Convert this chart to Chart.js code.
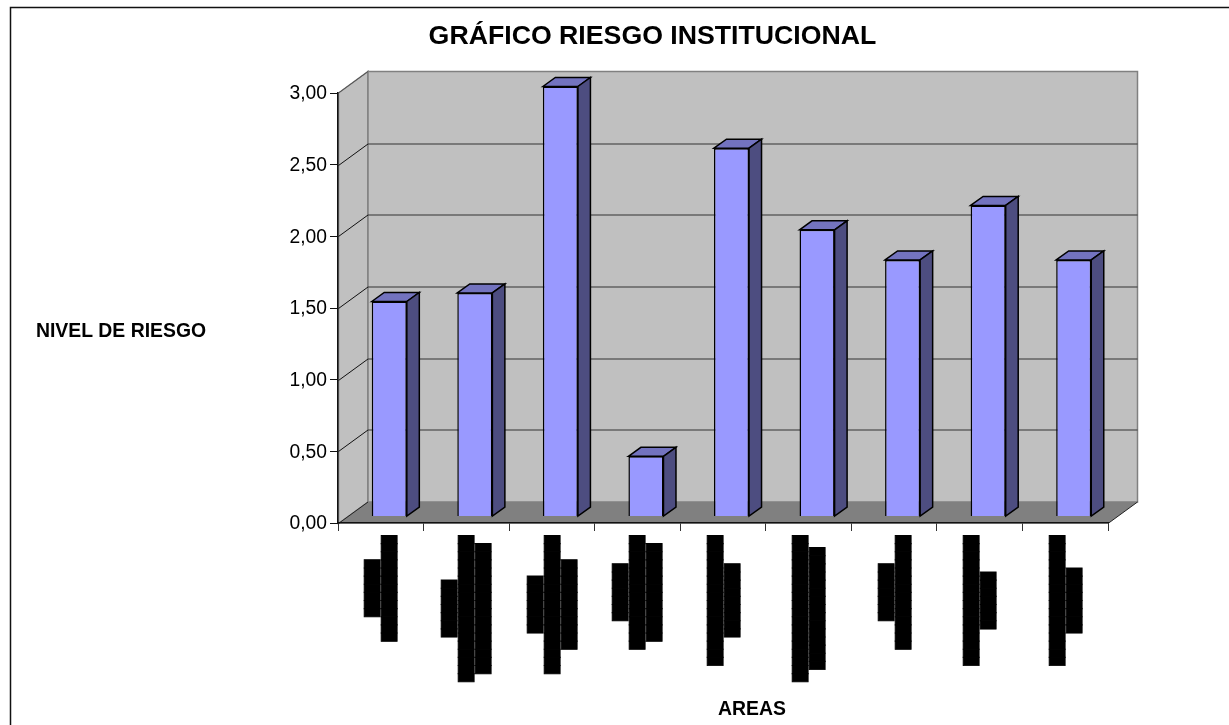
<!DOCTYPE html>
<html>
<head>
<meta charset="utf-8">
<script src="https://cdn.jsdelivr.net/npm/chart.js@4/dist/chart.umd.js"></script>
<style>
  html, body { margin: 0; padding: 0; background: #fff; overflow: hidden; }
  #wrap { width: 1229px; height: 725px; }
</style>
</head>
<body>
<div id="wrap"><canvas id="chart" width="1229" height="725"></canvas></div>
<script>
// area names are unreadable in the source, they show only as solid black text lines
const areaLabels = [
  ['███████', '█████████████'],
  ['███████', '██████████████████', '████████████████'],
  ['███████', '█████████████████', '███████████'],
  ['███████', '██████████████', '████████████'],
  ['████████████████', '█████████'],
  ['██████████████████', '███████████████'],
  ['███████', '██████████████'],
  ['████████████████', '███████'],
  ['████████████████', '████████']
];
const riesgo = [1.5, 1.56, 3.0, 0.42, 2.57, 2.0, 1.79, 2.17, 1.79];
const yTicks = [0, 0.5, 1, 1.5, 2, 2.5, 3];

const titulo = 'GRÁFICO RIESGO INSTITUCIONAL';
const tituloY = 'NIVEL DE RIESGO';
const tituloX = 'AREAS';

// 3D box depth
const wallDx = 29.5, wallDy = -21.5;
const barShiftX = 8.5, barShiftY = -6.5;
const barDx = 12.5, barDy = -9;

function poly(ctx, pts, fill, stroke, lw) {
  ctx.beginPath();
  pts.forEach((p, i) => i ? ctx.lineTo(p[0], p[1]) : ctx.moveTo(p[0], p[1]));
  ctx.closePath();
  if (fill) { ctx.fillStyle = fill; ctx.fill(); }
  if (stroke) { ctx.strokeStyle = stroke; ctx.lineWidth = lw; ctx.stroke(); }
}

const box3d = {
  id: 'box3d',
  beforeDraw(chart) {
    const ctx = chart.ctx, a = chart.chartArea, y = chart.scales.y;
    const l = a.left + 0.5, r = a.right, b = a.bottom + 0.5, t = y.getPixelForValue(3);
    const top = t + wallDy, floor = b + wallDy;
    ctx.save();
    ctx.fillStyle = '#fff';
    ctx.fillRect(0, 0, chart.width, chart.height);
    // outer frame, runs off the page right and bottom
    ctx.strokeStyle = '#111';
    ctx.lineWidth = 1.5;
    ctx.strokeRect(10.5, 7.5, 1300, 900);
    // walls
    poly(ctx, [[l, t], [l + wallDx, top], [l + wallDx, floor], [l, b]], '#c0c0c0', '#808080', 1.5);
    poly(ctx, [[l + wallDx, top], [r + wallDx, top], [r + wallDx, floor], [l + wallDx, floor]], '#c0c0c0', '#808080', 1.5);
    // grid lines on both walls
    yTicks.forEach(v => {
      if (v === 0 || v === 3) return;
      const py = Math.round(y.getPixelForValue(v)) + 0.5;
      ctx.beginPath();
      ctx.moveTo(l, py);
      ctx.lineTo(l + wallDx, py + wallDy);
      ctx.strokeStyle = '#111';
      ctx.lineWidth = 1;
      ctx.stroke();
      ctx.beginPath();
      ctx.moveTo(l + wallDx, py + wallDy);
      ctx.lineTo(r + wallDx, py + wallDy);
      ctx.strokeStyle = '#333';
      ctx.lineWidth = 1.2;
      ctx.stroke();
    });
    ctx.beginPath();
    ctx.moveTo(l, t);
    ctx.lineTo(l + wallDx, top);
    ctx.strokeStyle = '#555';
    ctx.lineWidth = 1;
    ctx.stroke();
    // floor
    poly(ctx, [[l, b], [l + wallDx, floor], [r + wallDx, floor], [r, b]], '#808080');
    ctx.beginPath();
    ctx.moveTo(r, b);
    ctx.lineTo(r + wallDx, floor);
    ctx.moveTo(l, b);
    ctx.lineTo(l + wallDx, floor);
    ctx.strokeStyle = '#222';
    ctx.lineWidth = 1;
    ctx.stroke();
    ctx.restore();
  },
  beforeDatasetsDraw(chart) {
    chart.ctx.save();
    chart.ctx.translate(barShiftX, barShiftY);
  },
  afterDatasetsDraw(chart) {
    const ctx = chart.ctx;
    chart.getDatasetMeta(0).data.forEach(bar => {
      const x0 = bar.x - bar.width / 2, x1 = bar.x + bar.width / 2;
      poly(ctx, [[x0, bar.y], [x0 + barDx, bar.y + barDy], [x1 + barDx, bar.y + barDy], [x1, bar.y]], '#7373bf', '#000', 1.5);
      poly(ctx, [[x1, bar.y], [x1 + barDx, bar.y + barDy], [x1 + barDx, bar.base + barDy], [x1, bar.base]], '#4d4d80', '#000', 1.5);
    });
    ctx.restore();
  },
  afterDraw(chart) {
    const ctx = chart.ctx, xs = chart.scales.x;
    ctx.save();
    ctx.fillStyle = '#000';
    ctx.textAlign = 'center';
    ctx.textBaseline = 'middle';
    ctx.font = 'bold 26.7px "Liberation Sans"';
    ctx.fillText(titulo, 652.5, 36.5);
    ctx.font = 'bold 19.4px "Liberation Sans"';
    ctx.fillText(tituloY, 121, 332);
    ctx.fillText(tituloX, 752, 710);

    // rotated area labels, every line centred on the longest one
    ctx.font = '13.5px "DejaVu Sans Mono"';
    ctx.strokeStyle = '#000';
    ctx.lineWidth = 0.8;
    areaLabels.forEach((lines, i) => {
      const longest = Math.max(...lines.map(l => ctx.measureText(l).width));
      lines.forEach((line, j) => {
        ctx.save();
        ctx.translate(xs.getPixelForTick(i) + 1.5 + (j - (lines.length - 1) / 2) * 17, 535.5 + longest / 2);
        ctx.rotate(-Math.PI / 2);
        ctx.strokeText(line, 0, 0);
        ctx.fillText(line, 0, 0);
        ctx.restore();
      });
    });
    ctx.restore();
  }
};

new Chart(document.getElementById('chart'), {
  type: 'bar',
  data: {
    labels: areaLabels,
    datasets: [{
      data: riesgo,
      backgroundColor: '#9999ff',
      borderColor: '#000',
      borderWidth: 1.5,
      categoryPercentage: 1,
      barPercentage: 0.41,
      clip: false
    }]
  },
  options: {
    responsive: false,
    animation: false,
    events: [],
    layout: { padding: { top: 93, right: 121, left: 0, bottom: 0 } },
    plugins: { legend: { display: false }, tooltip: { enabled: false } },
    scales: {
      x: {
        afterFit(s) { s.height = 202; },
        border: { color: '#111', width: 1.5 },
        grid: { drawOnChartArea: false, offset: true, color: '#333', tickLength: 8 },
        ticks: { display: false, autoSkip: false }
      },
      y: {
        min: 0,
        max: 3,
        afterFit(s) { s.width = 338; },
        afterBuildTicks(s) { s.ticks = yTicks.map(v => ({ value: v })); },
        border: { color: '#111', width: 1.5 },
        grid: { drawOnChartArea: false, color: '#111', tickLength: 8 },
        ticks: {
          padding: 3,
          labelOffset: 1,
          color: '#000',
          font: { family: '"Liberation Sans"', size: 19.3 },
          callback: v => v.toFixed(2).replace('.', ',')
        }
      }
    }
  },
  plugins: [box3d]
});
</script>
</body>
</html>
